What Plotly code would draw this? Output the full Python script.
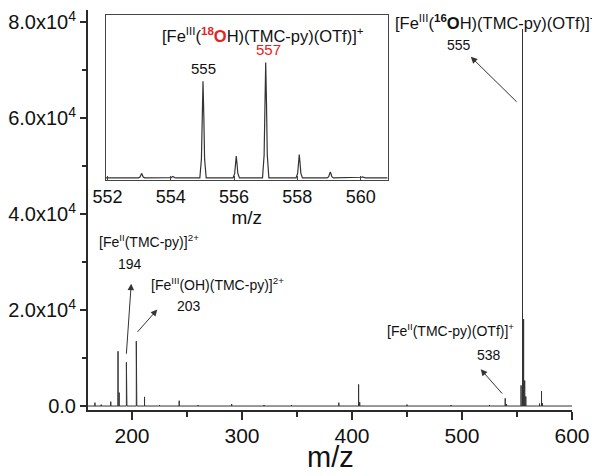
import plotly.graph_objects as go

# ---------------- data ----------------
# main spectrum (stick peaks): m/z and intensity
main_mz = [166.3, 172.0, 180.7, 187.3, 188.3, 194.9, 195.4, 203.9, 204.4, 211.4,
           225.0, 242.9, 260.0, 290.6, 320.0, 345.0, 388.0, 406.0, 407.0, 450.0,
           490.0, 525.0, 539.3, 540.5, 553.7, 555.0, 556.0, 557.0, 558.0, 570.5,
           572.3, 573.0]
main_int = [700, 300, 900, 11400, 2800, 9100, 5200, 13500, 3600, 1900,
            200, 1100, 200, 400, 200, 200, 700, 4500, 800, 300,
            200, 200, 1600, 400, 4300, 78500, 18100, 5300, 2000, 500,
            3100, 600]
spec_start, spec_end = 160, 600

# inset profile spectrum (relative intensity)
inset_mz = [551.95,
            552.98, 553.03, 553.055, 553.08, 553.105, 553.13, 553.18,
            553.97, 554.02, 554.045, 554.07, 554.095, 554.12, 554.17,
            554.92, 554.97, 554.995, 555.02, 555.045, 555.07, 555.12,
            555.97, 556.02, 556.045, 556.07, 556.095, 556.12, 556.17,
            556.90, 556.95, 556.975, 557.00, 557.025, 557.05, 557.10,
            557.96, 558.01, 558.035, 558.06, 558.085, 558.11, 558.16,
            558.94, 558.99, 559.015, 559.04, 559.065, 559.09, 559.14,
            559.95, 560.00, 560.025, 560.05, 560.075, 560.10, 560.15,
            560.85]
inset_int = [0,
             0, 0.9, 2.9, 4.5, 2.9, 0.9, 0,
             0, 0.3, 1.0, 1.5, 1.0, 0.3, 0,
             0, 19, 63, 97, 63, 19, 0,
             0, 4.4, 14, 22, 14, 4.4, 0,
             0, 23, 75, 116, 75, 23, 0,
             0, 4.7, 15, 23.5, 15, 4.7, 0,
             0, 1.2, 3.9, 6, 3.9, 1.2, 0,
             0, 0.2, 0.6, 1, 0.6, 0.2, 0,
             0]

# tick labels
y_tickvals = [0, 20000, 40000, 60000, 80000]
y_ticktext = ["0.0", "2.0x10<sup>4</sup>", "4.0x10<sup>4</sup>",
              "6.0x10<sup>4</sup>", "8.0x10<sup>4</sup>"]
y_minorvals = [10000, 30000, 50000, 70000]
x_tickvals = [200, 300, 400, 500, 600]
x_minorvals = [250, 350, 450, 550]
inset_tickvals = [552, 554, 556, 558, 560]

FONT = "Liberation Sans, Arial, sans-serif"
INK = "#2a2a2a"

# ---------------- build traces ----------------
xs, ys = [spec_start], [0]
for m, h in zip(main_mz, main_int):
    xs += [m, m, m]
    ys += [0, h, 0]
xs.append(spec_end)
ys.append(0)

fig = go.Figure()
fig.add_trace(go.Scatter(x=xs, y=ys, mode="lines",
                         line=dict(color="#333333", width=1),
                         hoverinfo="skip", showlegend=False))
fig.add_trace(go.Scatter(x=inset_mz, y=inset_int, mode="lines",
                         line=dict(color="#333333", width=1.2),
                         xaxis="x2", yaxis="y2",
                         hoverinfo="skip", showlegend=False))

# ---------------- layout ----------------
fig.update_layout(
    width=600, height=476,
    margin=dict(l=75, r=35.5, t=0, b=74),
    paper_bgcolor="white", plot_bgcolor="white",
    font=dict(family=FONT, color="#111111"),
    xaxis=dict(domain=[0, 1], range=[160, 600], anchor="y",
               showline=True, linewidth=2, linecolor=INK,
               ticks="outside", ticklen=8, tickwidth=2, tickcolor=INK,
               tickvals=x_tickvals, tickfont=dict(size=21),
               ticklabelstandoff=-2,
               minor=dict(tickvals=x_minorvals, ticks="outside", ticklen=5,
                          tickwidth=1.5, tickcolor=INK),
               showgrid=False, zeroline=False),
    yaxis=dict(domain=[0, 1], range=[-829, 82487], anchor="x",
               showline=True, linewidth=2, linecolor=INK,
               ticks="outside", ticklen=6, tickwidth=2, tickcolor=INK,
               tickvals=y_tickvals, ticktext=y_ticktext,
               tickfont=dict(size=20), ticklabeloverflow="allow",
               minor=dict(tickvals=y_minorvals, ticks="outside", ticklen=4,
                          tickwidth=1.5, tickcolor=INK),
               showgrid=False, zeroline=False),
    xaxis2=dict(domain=[0.0368, 0.619], range=[551.95, 560.85], anchor="y2",
                showline=True, mirror=True, linewidth=1.2, linecolor="#444444",
                ticks="inside", ticklen=4, tickwidth=1, tickcolor="#444444",
                tickvals=inset_tickvals, tickfont=dict(size=18),
                showgrid=False, zeroline=False,
                title=dict(text="m/z", font=dict(size=19), standoff=2)),
    yaxis2=dict(domain=[0.5746, 0.9876], range=[-2.3, 163.7], anchor="x2",
                showline=True, mirror=True, linewidth=1.2, linecolor="#444444",
                showticklabels=False, ticks="", showgrid=False, zeroline=False),
)

RED = "#e8211d"
labels = [
    # (x, y, text, size, xanchor)
    (530.5, 80000,
     "[Fe<sup>III</sup>(<sup><b>16</b></sup><b>O</b>H)(TMC-py)(OTf)]<sup>+</sup>", 16.5, "center"),
    (497.2, 75233, "555", 14, "center"),
    (319.2, 77306,
     "[Fe<sup>III</sup>(<sup><span style='color:%s'><b>18</b></span></sup>"
     "<span style='color:%s'><b>O</b></span>H)(TMC-py)(OTf)]<sup>+</sup>" % (RED, RED), 16.5, "center"),
    (323.7, 74197, "<span style='color:%s'>557</span>" % RED, 15, "center"),
    (265.2, 70259, "555", 15, "center"),
    (168.1, 34404, "[Fe<sup>II</sup>(TMC-py)]<sup>2+</sup>", 14, "left"),
    (197.8, 29637, "194", 14, "center"),
    (215.8, 25492, "[Fe<sup>III</sup>(OH)(TMC-py)]<sup>2+</sup>", 14, "left"),
    (251.7, 20933, "203", 14, "center"),
    (429.8, 15751, "[Fe<sup>II</sup>(TMC-py)(OTf)]<sup>+</sup>", 14, "left"),
    (524.2, 10570, "538", 14, "center"),
]
annotations = []
for x, y, t, s, xa in labels:
    annotations.append(dict(x=x, y=y, xref="x", yref="y", text=t,
                            showarrow=False, xanchor=xa, yanchor="middle",
                            font=dict(size=s, family=FONT, color="#111111")))

# main x-axis title
annotations.append(dict(x=0.5, y=-0.1165, xref="paper", yref="paper",
                        text="m/z", showarrow=False, xanchor="center",
                        yanchor="middle", font=dict(size=29, family=FONT,
                                                    color="#111111")))

arrows = [
    # (head_x, head_y, tail_x, tail_y)
    (508.0, 72746, 551.0, 63067),
    (517.0, 7668, 537.7, 2280),
    (199.3, 25492, 194.8, 10570),
    (223.0, 20104, 203.8, 15130),
]
for hx, hy, tx, ty in arrows:
    annotations.append(dict(x=hx, y=hy, ax=tx, ay=ty, xref="x", yref="y",
                            axref="x", ayref="y", text="", showarrow=True,
                            arrowhead=2, arrowsize=1.3, arrowwidth=1,
                            arrowcolor="#333333", standoff=0, startstandoff=0))

fig.update_layout(annotations=annotations)
fig.write_html("out.html")
